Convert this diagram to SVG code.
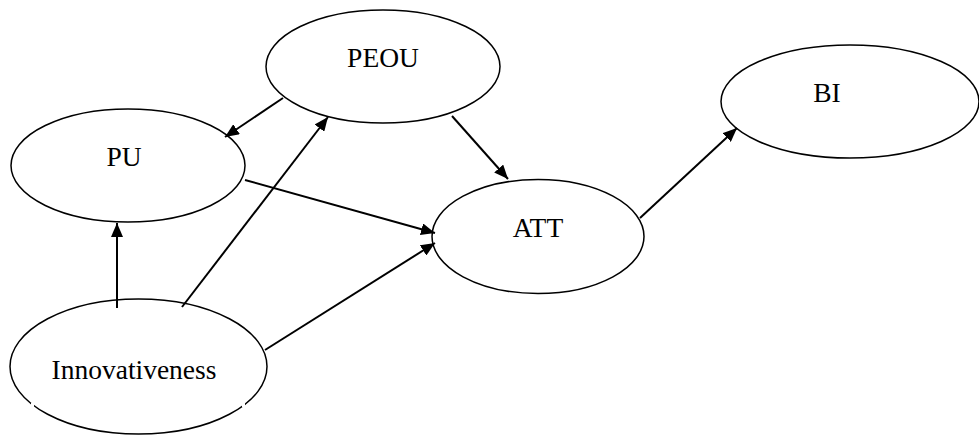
<svg xmlns="http://www.w3.org/2000/svg" width="979" height="435" viewBox="0 0 979 435">
<style>
.n ellipse{fill:#fff;stroke:#000;stroke-width:1.5}
.n text{font-family:"Liberation Serif","Times New Roman",serif;font-size:27.5px;fill:#000;text-anchor:middle}
#edges line{stroke:#000;stroke-width:2;marker-end:url(#ah)}
</style>
<defs>
<marker id="ah" viewBox="0 0 14 12" refX="14" refY="6" markerWidth="14" markerHeight="12" markerUnits="userSpaceOnUse" orient="auto">
<path d="M0,0 L14,6 L0,12 Z" fill="#000"/>
</marker>
</defs>
<rect width="979" height="435" fill="#fff"/>
<g id="PEOU" class="n"><ellipse cx="383" cy="66.5" rx="117" ry="56.5"/><text x="383" y="67">PEOU</text></g>
<g id="PU" class="n"><ellipse cx="128" cy="165.5" rx="117" ry="56.5"/><text x="124" y="166">PU</text></g>
<g id="ATT" class="n"><ellipse cx="538" cy="236.5" rx="106" ry="57"/><text x="538" y="237">ATT</text></g>
<g id="BI" class="n"><ellipse cx="850" cy="101.5" rx="129" ry="56.5"/><text x="827" y="102">BI</text></g>
<g id="Innovativeness" class="n"><ellipse cx="138.5" cy="366.5" rx="128.5" ry="67.5"/><text x="134" y="379">Innovativeness</text>
<rect x="31" y="403" width="3" height="4" fill="#fff"/><rect x="242" y="403" width="3" height="4" fill="#fff"/></g>
<g id="edges">
<line x1="283" y1="98" x2="225" y2="137"/>
<line x1="182" y1="307" x2="328" y2="117"/>
<line x1="245" y1="180" x2="435" y2="233"/>
<line x1="117" y1="308" x2="117" y2="223"/>
<line x1="265" y1="350" x2="435" y2="243"/>
<line x1="452" y1="116" x2="508" y2="179"/>
<line x1="640" y1="218" x2="737" y2="128"/>
</g>
</svg>
